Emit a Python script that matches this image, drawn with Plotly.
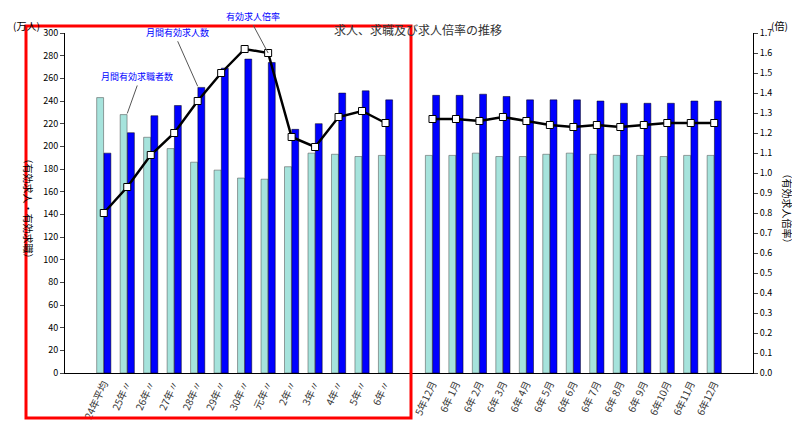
import plotly.graph_objects as go

categories = ["24年平均", "25年〃", "26年〃", "27年〃", "28年〃", "29年〃", "30年〃", "元年〃",
              "2年〃", "3年〃", "4年〃", "5年〃", "6年〃", " ",
              "5年12月", "6年 1月", "6年 2月", "6年 3月", "6年 4月", "6年 5月", "6年 6月",
              "6年 7月", "6年 8月", "6年 9月", "6年10月", "6年11月", "6年12月"]
seekers = [243, 228, 208, 198, 186, 179, 172, 171, 182, 194, 193, 191, 192, None,
           192, 192, 194, 191, 191, 193, 194, 193, 192, 192, 191, 192, 192]
openings = [194, 212, 227, 236, 252, 269, 277, 274, 215, 220, 247, 249, 241, None,
            245, 245, 246, 244, 241, 241, 241, 240, 238, 238, 238, 240, 240]
ratio = [0.80, 0.93, 1.09, 1.20, 1.36, 1.50, 1.62, 1.60, 1.18, 1.13, 1.28, 1.31, 1.25, None,
         1.27, 1.27, 1.26, 1.28, 1.26, 1.24, 1.23, 1.24, 1.23, 1.24, 1.25, 1.25, 1.25]

font = "Noto Sans CJK JP"
fig = go.Figure()
fig.add_trace(go.Bar(x=categories, y=seekers, marker=dict(color="#a6e3dc", line=dict(color="#444", width=0.5)),
                     name="月間有効求職者数"))
fig.add_trace(go.Bar(x=categories, y=openings, marker=dict(color="#0000ff", line=dict(color="#000", width=0.5)),
                     name="月間有効求人数"))
fig.add_trace(go.Scatter(x=categories, y=ratio, yaxis="y2", mode="lines+markers",
                         line=dict(color="black", width=2.5), connectgaps=False,
                         marker=dict(symbol="square", size=7, color="white", line=dict(color="black", width=1)),
                         name="有効求人倍率"))

W, H = 800, 443
L, R, T, B = 57, 55, 25, 78
fig.update_layout(
    width=W, height=H, showlegend=False,
    plot_bgcolor="white", paper_bgcolor="white",
    margin=dict(l=L, r=R, t=T, b=B, autoexpand=False),
    bargap=0.38, bargroupgap=0.05,
    font=dict(family=font, size=10, color="black"),
    xaxis=dict(type="category", tickangle=-65, tickfont=dict(size=10, color="#333"),
               showline=True, linecolor="black", ticks="", automargin=False),
    yaxis=dict(range=[0, 300], dtick=20, showgrid=False, showline=True, linecolor="black",
               ticks="outside", ticklen=4, tickfont=dict(size=9), automargin=False),
    yaxis2=dict(range=[0, 1.7], dtick=0.1, tickformat=".1f", overlaying="y", side="right",
                showgrid=False, showline=True, linecolor="black", ticks="outside", ticklen=4,
                tickfont=dict(size=9), automargin=False),
)

pw, ph = W - L - R, H - T - B
def px(x):
    return (x - L) / pw
def py(y):
    return (H - B - y) / ph

fig.add_annotation(text="求人、求職及び求人倍率の推移", xref="paper", yref="paper", x=px(410), y=py(11),
                   showarrow=False, font=dict(size=12, color="#333"))
fig.add_annotation(text="(万人)", xref="paper", yref="paper", x=px(3), y=py(8), showarrow=False,
                   xanchor="left", font=dict(size=10))
fig.add_annotation(text="(倍)", xref="paper", yref="paper", x=px(782), y=py(8), showarrow=False,
                   font=dict(size=10))
fig.add_annotation(text="（有効求人・有効求職）", xref="paper", yref="paper", x=px(10), y=py(200),
                   showarrow=False, textangle=90, font=dict(size=10))
fig.add_annotation(text="（有効求人倍率）", xref="paper", yref="paper", x=px(788), y=py(200),
                   showarrow=False, textangle=90, font=dict(size=10))

lab = dict(size=9, color="#0000ff")
fig.add_annotation(x="25年〃", y=229, text="月間有効求職者数", ax=10, ay=-28, font=lab,
                   arrowhead=0, arrowcolor="#555", arrowwidth=1, yanchor="bottom")
fig.add_annotation(x="28年〃", y=253, text="月間有効求人数", ax=-20, ay=-45, font=lab,
                   arrowhead=0, arrowcolor="#555", arrowwidth=1, yanchor="bottom")
fig.add_annotation(x="元年〃", y=1.60, yref="y2", text="有効求人倍率", ax=-15, ay=-28, font=lab,
                   arrowhead=0, arrowcolor="#555", arrowwidth=1, yanchor="bottom")

fig.add_shape(type="rect", xref="paper", yref="paper", x0=px(18), x1=px(403), y0=py(410), y1=py(18),
              line=dict(color="red", width=3))

fig.write_html("out.html")
